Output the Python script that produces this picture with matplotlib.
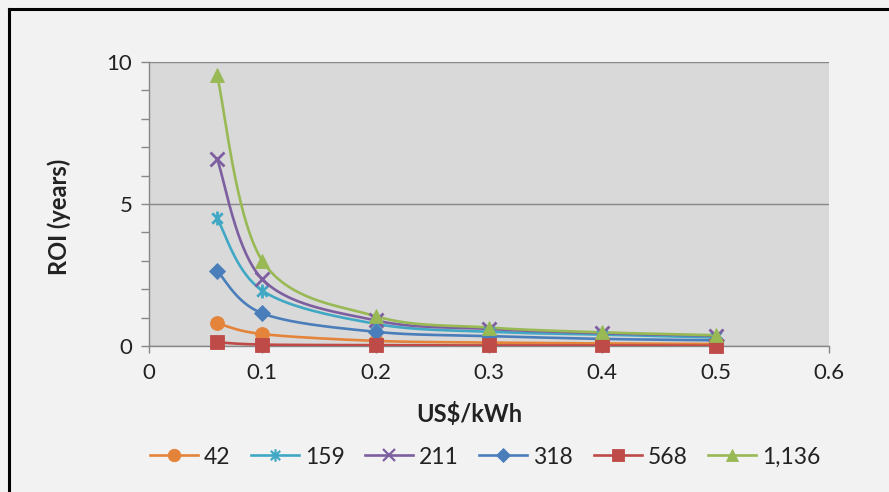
import numpy as np
import matplotlib
matplotlib.use("Agg")
import matplotlib.pyplot as plt
from matplotlib.path import Path
from matplotlib.lines import Line2D

# Electricity price (US$/kWh) and payback time (years) per system size
price = [0.06, 0.1, 0.2, 0.3, 0.4, 0.5]
series_labels = ["42", "159", "211", "318", "568", "1,136"]
roi_42 = [0.80, 0.42, 0.18, 0.12, 0.09, 0.07]
roi_159 = [4.50, 1.95, 0.78, 0.50, 0.40, 0.30]
roi_211 = [6.60, 2.35, 0.90, 0.60, 0.45, 0.36]
roi_318 = [2.65, 1.15, 0.50, 0.35, 0.25, 0.20]
roi_568 = [0.13, 0.05, 0.03, 0.02, 0.02, 0.01]
roi_1136 = [9.55, 3.00, 1.05, 0.65, 0.48, 0.38]
x_ticks = [0, 0.1, 0.2, 0.3, 0.4, 0.5, 0.6]
y_ticks = [0, 5, 10]

colors = ["#e4843a", "#40a8c4", "#7d5fa0", "#4a7ebb", "#be4b48", "#98b954"]

# Excel-style asterisk marker: vertical stroke plus an X
s = 0.75
star = Path(
    [(0, -1), (0, 1), (-s, -s), (s, s), (-s, s), (s, -s)],
    [Path.MOVETO, Path.LINETO, Path.MOVETO, Path.LINETO, Path.MOVETO, Path.LINETO],
)
markers = ["o", star, "x", "D", "s", "^"]
msizes = [10, 10, 10, 8, 10, 10]


def smooth(xs, ys, n=40):
    """Cardinal (Catmull-Rom) spline through the points, as Excel's smoothed line."""
    P = np.column_stack([xs, ys]).astype(float)
    m = len(P)
    T = np.zeros_like(P)
    for i in range(m):
        a = P[max(i - 1, 0)]
        b = P[min(i + 1, m - 1)]
        T[i] = (b - a) / 2.0
    out = []
    t = np.linspace(0, 1, n)[:, None]
    for i in range(m - 1):
        p0, p3 = P[i], P[i + 1]
        p1 = p0 + T[i] / 3.0
        p2 = p3 - T[i + 1] / 3.0
        seg = ((1 - t) ** 3) * p0 + 3 * ((1 - t) ** 2) * t * p1 + 3 * (1 - t) * t ** 2 * p2 + t ** 3 * p3
        out.append(seg if i == 0 else seg[1:])
    c = np.vstack(out)
    return c[:, 0], c[:, 1]


plt.rcParams["font.family"] = ["Lato", "DejaVu Sans"]

fig = plt.figure(figsize=(8.89, 4.92), dpi=100)
fig.patch.set_facecolor("#f2f2f2")

W, H = 889, 492
left, right, top, bottom = 149, 829, 62, 346
ax = fig.add_axes([left / W, 1 - bottom / H, (right - left) / W, (bottom - top) / H])
ax.set_facecolor("#d9d9d9")

all_series = [roi_42, roi_159, roi_211, roi_318, roi_568, roi_1136]
handles = []
for vals, lab, col, mk, ms in zip(all_series, series_labels, colors, markers, msizes):
    sx, sy = smooth(price, vals)
    ax.plot(sx, sy, color=col, lw=1.9, zorder=3, solid_capstyle="round")
    unfilled = mk in ("x",) or mk is star
    ax.plot(price, vals, linestyle="none", marker=mk, markersize=ms,
            color=col, markeredgecolor=col,
            markeredgewidth=2.0 if unfilled else 0.6, zorder=4, clip_on=False)
    handles.append(Line2D([], [], color=col, lw=1.9, marker=mk,
                          markersize=ms - 1, markeredgecolor=col,
                          markeredgewidth=1.6 if unfilled else 0.6))

ax.set_xlim(0, 0.6)
ax.set_ylim(0, 10)
ax.set_xticks(x_ticks)
ax.set_xticklabels(["0", "0.1", "0.2", "0.3", "0.4", "0.5", "0.6"])
ax.set_yticks(y_ticks)
ax.set_yticks(np.arange(0, 11, 1), minor=True)
ax.grid(axis="y", which="major", color="#878787", lw=1.0, zorder=1)

for side in ("top", "right"):
    ax.spines[side].set_visible(False)
for side in ("left", "bottom"):
    ax.spines[side].set_color("#878787")
    ax.spines[side].set_linewidth(1.0)

ax.tick_params(axis="y", which="major", length=6, width=1, color="#878787",
               labelsize=16, pad=6, labelcolor="#222222")
ax.tick_params(axis="y", which="minor", length=6, width=1, color="#878787")
ax.tick_params(axis="x", which="major", length=5, width=1, color="#878787",
               labelsize=16, pad=7, labelcolor="#222222")

fig.text(59 / W, 1 - 217 / H, "ROI (years)", rotation=90, ha="center", va="center",
         fontsize=17, fontweight="bold", color="#222222")
fig.text(469 / W, 1 - 414 / H, "US$/kWh", ha="center", va="center",
         fontsize=17, fontweight="bold", color="#222222")

fig.legend(handles, series_labels, loc="center", bbox_to_anchor=(485 / W, 1 - 457 / H),
           ncol=6, frameon=False, fontsize=16.5, handlelength=2.1, handletextpad=0.25,
           columnspacing=0.9, labelcolor="#222222")

# outer frame lines of the chart area
fig.add_artist(Line2D([9 / W, 9 / W], [0, 1 - 9 / H], color="black", lw=2.2))
fig.add_artist(Line2D([9 / W, 1], [1 - 9 / H, 1 - 9 / H], color="black", lw=2.2))

fig.savefig("out.png", dpi=100, facecolor=fig.get_facecolor())
